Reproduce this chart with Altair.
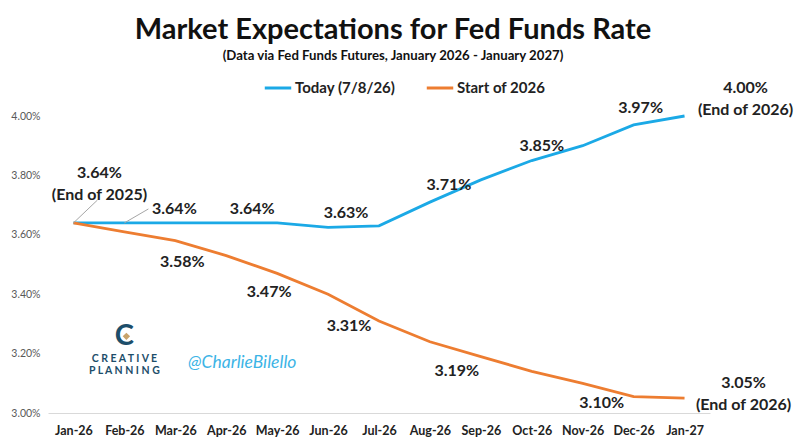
import altair as alt
import pandas as pd

# ---------------- data ----------------
months = ["Jan-26", "Feb-26", "Mar-26", "Apr-26", "May-26", "Jun-26", "Jul-26",
          "Aug-26", "Sep-26", "Oct-26", "Nov-26", "Dec-26", "Jan-27"]
today = [3.64, 3.64, 3.64, 3.64, 3.64, 3.625, 3.63, 3.71, 3.785, 3.85, 3.90, 3.97, 4.00]
start_2026 = [3.64, 3.61, 3.58, 3.53, 3.47, 3.40, 3.31, 3.24, 3.19, 3.14, 3.10, 3.055, 3.05]
series_names = ["Today (7/8/26)", "Start of 2026"]
series_colors = ["#1BA9E6", "#ED7D31"]
y_ticks = [3.0, 3.2, 3.4, 3.6, 3.8, 4.0]

# point labels
lab_month = ["Jan-26", "Feb-26", "Apr-26", "Jun-26", "Aug-26", "Oct-26", "Dec-26", "Jan-27",
             "Mar-26", "May-26", "Jul-26", "Sep-26", "Nov-26", "Jan-27"]
lab_value = [3.64, 3.64, 3.64, 3.625, 3.71, 3.85, 3.97, 4.00,
             3.58, 3.47, 3.31, 3.19, 3.10, 3.05]
lab_text = ["3.64%\n(End of 2025)", "3.64%", "3.64%", "3.63%", "3.71%", "3.85%", "3.97%",
            "4.00%\n(End of 2026)",
            "3.58%", "3.47%", "3.31%", "3.19%", "3.10%", "3.05%\n(End of 2026)"]
lab_dx = [26, 50, 26, 18, 19, 10, 7, 61, 7, -8, -30, -24, 19, 59]
lab_dy = [-50, -14, -14, -14, -17, -15, -17, -28, 21, 19, 5, 14, 20, -15]

# leader lines (month, from value, to value)
lead_month = ["Jan-26", "Feb-26"]
lead_from = [3.64, 3.64]
lead_to = [3.717, 3.687]

FONT = "Lato"

rows = []
for m, a, b in zip(months, today, start_2026):
    rows.append({"month": m, "value": a, "series": series_names[0]})
    rows.append({"month": m, "value": b, "series": series_names[1]})
df = pd.DataFrame(rows)

x_enc = alt.X("month:N", sort=months, scale=alt.Scale(type="point", padding=0.5),
              axis=alt.Axis(title=None, labelAngle=0, ticks=False, domainColor="#d9d9d9",
                            labelFont=FONT, labelFontSize=12.5, labelFontWeight="bold",
                            labelColor="#222222", labelPadding=11))
y_scale = alt.Scale(domain=[3.0, 4.0], nice=False, zero=False)
y_enc = alt.Y("value:Q", scale=y_scale,
              axis=alt.Axis(title=None, values=y_ticks, domain=False, ticks=False, grid=False,
                            labelExpr="format(datum.value, '.2f') + '%'",
                            labelFont=FONT, labelFontSize=10.5, labelColor="#595959",
                            labelPadding=8))

lines = alt.Chart(df).mark_line(strokeWidth=2.8).encode(
    x=x_enc,
    y=y_enc,
    color=alt.Color("series:N", scale=alt.Scale(domain=series_names, range=series_colors),
                    legend=alt.Legend(title=None, orient="none", legendX=215, legendY=-43,
                                      direction="horizontal", symbolType="stroke",
                                      symbolStrokeWidth=3, symbolSize=700,
                                      labelFont=FONT, labelFontSize=15, labelFontWeight="bold",
                                      labelColor="#222222", columnPadding=24, labelOffset=2)),
)

leads = alt.Chart(pd.DataFrame({"month": lead_month, "v1": lead_from, "v2": lead_to})).mark_rule(
    color="#a6a6a6", strokeWidth=1, x2Offset=24
).encode(
    x=alt.X("month:N", sort=months),
    x2="month:N",
    y=alt.Y("v1:Q"),
    y2="v2:Q",
)

layers = [lines, leads]
for m, v, t, dx, dy in zip(lab_month, lab_value, lab_text, lab_dx, lab_dy):
    layers.append(
        alt.Chart(pd.DataFrame({"month": [m], "value": [v], "label": [t]})).mark_text(
            font=FONT, fontSize=16, fontWeight="bold", color="#222222",
            dx=dx, dy=dy, lineBreak="\n", lineHeight=22, align="center", baseline="middle"
        ).encode(x=alt.X("month:N", sort=months), y=alt.Y("value:Q"), text="label:N")
    )

# logo + watermark
logo_c = alt.Chart(pd.DataFrame({"month": ["Feb-26"], "value": [3.258], "t": ["C"]})).mark_text(
    font=FONT, fontSize=29, fontWeight="bold", color="#1d4e6a", align="center", baseline="middle"
).encode(x=alt.X("month:N", sort=months), y="value:Q", text="t:N")
logo_d = alt.Chart(pd.DataFrame({"month": ["Feb-26"], "value": [3.258]})).mark_point(
    shape="diamond", filled=True, color="#c8a36b", size=55, opacity=1, xOffset=2
).encode(x=alt.X("month:N", sort=months), y="value:Q")
logo_t = alt.Chart(pd.DataFrame({"month": ["Feb-26", "Feb-26"], "value": [3.182, 3.141],
                                 "t": ["C R E A T I V E", "P L A N N I N G"]})).mark_text(
    font=FONT, fontSize=10.5, fontWeight="bold", color="#1d4e6a", align="center", baseline="middle"
).encode(x=alt.X("month:N", sort=months), y="value:Q", text="t:N")
wm = alt.Chart(pd.DataFrame({"month": ["Apr-26"], "value": [3.168], "t": ["@CharlieBilello"]})).mark_text(
    font=FONT, fontSize=17.5, fontStyle="italic", color="#3cb4e6", align="center", baseline="middle", dx=16
).encode(x=alt.X("month:N", sort=months), y="value:Q", text="t:N")

layers += [logo_c, logo_d, logo_t, wm]

chart = alt.layer(*layers).properties(
    width=662,
    height=297,
    autosize=alt.AutoSizeParams(type="none"),
    padding={"left": 40, "top": 108, "right": 84, "bottom": 30},
    background="white",
    title=alt.TitleParams(
        text="Market Expectations for Fed Funds Rate",
        subtitle="(Data via Fed Funds Futures, January 2026 - January 2027)",
        font=FONT, fontSize=29, fontWeight="bold", color="#111111",
        subtitleFont=FONT, subtitleFontSize=13.2, subtitleFontWeight="bold",
        subtitleColor="#111111", subtitlePadding=5,
        anchor="middle", dx=14, offset=11,
    ),
).configure_view(strokeOpacity=0, strokeWidth=0)

chart.save("out.html", embed_options={"renderer": "svg", "actions": False})
